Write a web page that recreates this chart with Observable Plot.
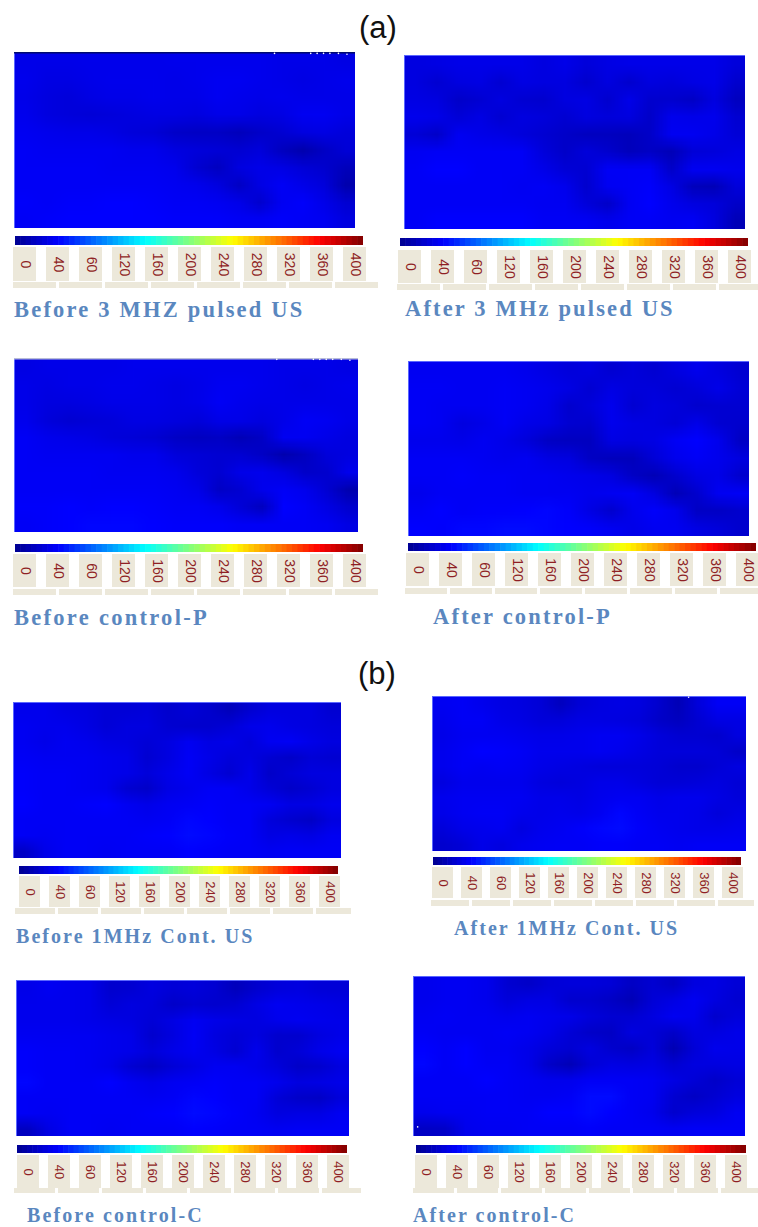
<!DOCTYPE html>
<html>
<head>
<meta charset="utf-8">
<script src="https://cdn.jsdelivr.net/npm/d3@7"></script>
<script src="https://cdn.jsdelivr.net/npm/@observablehq/plot@0.6"></script>
<style>
html,body{margin:0;padding:0;background:#fff;}
#page{position:relative;width:758px;height:1227px;overflow:hidden;}
#page>div{position:absolute;}
#page svg{display:block;overflow:hidden;background:transparent;max-width:none;}
.cap{font-family:"Liberation Serif",serif;font-weight:bold;color:#5a87bf;white-space:nowrap;line-height:1;}
.sec{font-family:"Liberation Sans",sans-serif;color:#111;font-size:31px;line-height:1;}
</style>
</head>
<body>
<div id="page"></div>
<script>
// ---- data ----
const tickLabels = ["0","40","60","120","160","200","240","280","320","360","400"];
const scaleValues = [0,50,150,250,350,400];
const scaleColors = ["#00008f","#0000ff","#00ffff","#ffff00","#ff0000","#800000"];
const gridCols = 16, gridRows = 10;

const beforePulsed = [
 40,40,40,41,41,41,41,42,42,42,42,42,40,40,40,38,
 42,38,38,40,42,42,42,40,42,44,44,42,40,38,40,42,
 40,36,34,38,40,40,42,40,40,44,42,40,42,40,40,40,
 42,36,34,32,34,36,38,38,36,40,40,36,38,44,44,40,
 44,42,40,40,38,34,32,26,24,24,20,26,30,36,38,34,
 46,44,44,44,44,42,42,36,34,32,30,34,22,14,24,32,
 46,46,46,46,44,44,44,42,30,22,36,40,38,32,28,20,
 46,46,46,46,46,46,46,44,42,36,24,38,46,40,34,14,
 48,46,48,48,50,50,48,46,46,44,40,28,44,48,40,30,
 46,48,50,50,50,50,50,48,48,48,46,46,48,46,44,36];
const afterPulsed = [
 36,38,40,40,40,40,36,40,34,38,40,40,40,40,40,34,
 36,30,36,38,30,38,36,36,28,36,28,36,34,38,40,28,
 38,36,26,30,36,30,28,36,38,28,40,28,28,24,36,22,
 42,40,32,38,30,36,34,30,36,34,36,26,42,40,42,30,
 32,26,44,40,38,34,30,26,22,22,20,26,44,44,40,32,
 44,46,46,46,46,46,34,26,34,28,20,24,18,32,34,38,
 46,50,50,46,46,46,40,32,30,46,46,46,26,44,44,42,
 46,46,46,46,46,44,46,42,28,44,46,48,38,20,18,34,
 46,46,46,46,46,46,44,44,34,26,44,50,42,36,34,26,
 46,50,50,50,50,50,46,46,46,42,46,46,44,46,36,18];
const beforeControlP = [
 38,40,40,40,40,42,42,42,42,42,42,42,40,40,40,38,
 40,38,40,40,42,42,40,38,40,44,44,42,40,38,40,42,
 40,36,36,38,40,40,40,38,40,46,42,40,40,40,40,40,
 42,34,30,32,34,38,38,36,34,40,40,36,40,46,44,40,
 46,42,40,38,34,32,30,24,22,24,18,24,44,44,40,36,
 46,44,44,44,44,42,42,34,32,30,30,24,14,22,34,36,
 46,46,46,46,44,44,44,42,34,30,40,42,36,26,28,42,
 46,46,46,46,46,46,46,44,40,24,30,42,46,42,30,14,
 48,48,50,48,50,50,48,46,46,42,32,22,50,46,38,28,
 46,48,50,52,52,52,50,48,48,48,46,46,46,46,44,38];
const afterControlP = [
 44,44,44,44,44,42,38,34,36,30,34,30,36,42,36,30,
 46,46,44,44,46,44,42,38,30,38,34,34,30,34,40,32,
 46,44,44,44,46,44,40,28,34,42,30,36,34,28,30,30,
 46,44,36,40,46,40,38,30,28,42,38,36,32,40,30,28,
 42,42,40,44,40,34,24,22,22,38,36,38,46,50,42,24,
 46,46,46,44,42,44,38,36,24,20,20,32,42,46,42,36,
 46,46,48,46,46,44,44,42,40,36,24,18,28,38,40,28,
 42,46,46,46,46,44,44,44,42,44,46,36,18,28,44,46,
 46,50,46,48,48,50,52,48,38,28,42,48,42,24,24,28,
 50,48,52,52,54,54,52,50,48,44,40,44,44,38,34,28];
const before1MHz = [
 42,42,38,36,32,32,34,28,32,28,20,30,36,36,36,30,
 44,42,42,38,32,36,36,30,28,28,32,40,42,38,36,34,
 44,40,44,42,38,36,32,36,44,38,40,34,44,46,40,36,
 46,44,44,44,42,40,30,36,46,40,34,36,30,26,32,30,
 48,46,46,44,42,40,34,40,46,38,30,40,26,32,36,36,
 48,46,46,44,42,30,26,38,42,46,46,40,32,26,30,36,
 50,46,46,48,50,44,40,44,46,48,46,46,44,38,38,42,
 46,46,46,46,46,46,44,46,52,50,46,46,34,28,24,36,
 46,44,46,46,46,46,48,50,54,52,48,46,38,40,38,44,
 24,40,46,46,44,46,46,46,50,48,46,46,44,46,46,46];
const after1MHz = [
 44,46,42,38,36,32,22,32,36,38,36,28,18,34,46,46,
 42,46,46,40,38,34,34,38,38,36,34,26,22,30,38,38,
 40,44,44,44,42,40,40,42,44,44,40,34,30,30,28,36,
 42,46,50,48,46,42,42,42,44,42,38,34,34,34,32,26,
 42,46,44,46,44,40,38,36,34,34,34,32,28,28,32,36,
 36,42,42,42,42,36,34,36,40,40,36,32,32,34,36,32,
 42,44,44,44,44,40,40,38,42,44,44,40,42,42,38,34,
 40,44,46,46,42,40,42,40,44,52,46,42,42,40,34,38,
 34,40,42,44,36,42,44,48,52,54,48,44,42,40,40,42,
 28,32,40,36,42,44,46,46,48,48,46,46,44,46,46,46];
const beforeControlC = [
 40,44,42,40,28,30,36,32,34,30,20,28,34,36,32,32,
 42,42,42,40,32,36,34,26,30,28,30,38,44,42,40,38,
 42,42,42,40,38,36,32,38,44,40,38,36,42,44,42,40,
 44,44,44,44,42,40,28,36,46,36,32,36,28,28,36,40,
 48,46,46,44,42,40,34,40,44,38,30,42,28,32,40,44,
 48,46,46,44,40,30,24,32,38,44,44,40,34,26,28,36,
 52,46,46,46,50,44,40,44,46,48,46,46,42,36,38,40,
 46,46,46,46,46,46,44,46,52,50,46,46,32,26,24,34,
 46,44,46,46,46,46,48,50,54,52,48,44,36,38,38,44,
 22,38,46,46,44,46,46,46,50,48,46,46,44,46,46,46];
const afterControlC = [
 42,44,44,42,30,26,32,34,34,32,24,30,24,36,38,32,
 42,44,44,42,34,38,38,28,28,24,18,32,38,44,36,30,
 44,46,44,44,42,44,42,40,34,30,30,36,44,42,28,34,
 46,44,44,44,46,44,40,32,26,24,36,32,26,36,36,40,
 50,46,50,44,44,40,34,30,36,28,24,34,16,32,42,40,
 52,46,50,46,46,40,26,18,32,38,36,38,30,36,36,38,
 46,46,46,50,46,44,42,42,46,46,46,44,38,32,26,32,
 46,46,46,46,46,44,44,46,54,54,46,44,30,24,30,36,
 42,44,44,46,46,46,50,50,54,50,46,42,28,34,36,44,
 24,26,42,44,44,46,46,46,48,46,46,46,44,46,46,46];

const captions = ["Before 3 MHZ pulsed US","After 3 MHz pulsed US","Before control-P","After control-P",
                  "Before 1MHz Cont. US","After 1MHz Cont. US","Before control-C","After control-C"];
const grids = [beforePulsed,afterPulsed,beforeControlP,afterControlP,before1MHz,after1MHz,beforeControlC,afterControlC];
// small white artefacts visible in the scans: grid column, grid row, per panel
const specksTopRight = [[12.2,0.05],[13.9,0.05],[14.2,0.05],[14.5,0.05],[14.8,0.05],[15.2,0.05],[15.6,0.1]];
const specks = [specksTopRight,[],specksTopRight,[],[],[[13.05,0.05]],[],[[0.2,9.4]]];
const topLines = ["#000a70",null,"#b8bcd8",null,null,null,null,null];

// ---- layout ----
const layout = [
 {heat:[14,52,341,176],bar:[15,236,348,9],chips:[13,247,354,34],strips:[13,282,365,6],cap:[14,299,22.5,2.2]},
 {heat:[404,55,341,174],bar:[400,238,348,8],chips:[397,250,355,33],strips:[397,284,361,6],cap:[405,298,22.5,2.15]},
 {heat:[14,358,344,174],bar:[15,544,348,8],chips:[13,554,354,33],strips:[13,589,365,6],cap:[14,607,22.5,2.28]},
 {heat:[408,361,341,175],bar:[408,543,348,8],chips:[405,553,356,33],strips:[405,588,353,6],cap:[433,606,22.5,2.2]},
 {heat:[13,702,328,156],bar:[19,866,319,8],chips:[17,876,326,31],strips:[15,908,336,6],cap:[16,926,20,2.05]},
 {heat:[432,696,314,155],bar:[433,857,308,8],chips:[430,867,314,31],strips:[431,900,323,6],cap:[454,918,20,2.05]},
 {heat:[16,980,333,156],bar:[17,1145,330,8],chips:[14,1155,339,33],strips:[14,1188,347,5],cap:[27,1205,20,2.1]},
 {heat:[413,976,332,160],bar:[416,1145,330,8],chips:[413,1155,337,33],strips:[413,1188,345,5],cap:[413,1205,20,2.07]}
];
const fillScale = {type:"linear",domain:scaleValues,range:scaleColors,interpolate:"rgb",clamp:true};
const page = document.getElementById("page");

function place(node,x,y){
  const d=document.createElement("div");
  d.style.left=x+"px";d.style.top=y+"px";
  d.appendChild(node);page.appendChild(d);
}
function sectionLabel(t,x,y){
  const s=document.createElement("div");s.className="sec";s.textContent=t;
  s.style.left=x+"px";s.style.top=y+"px";page.appendChild(s);
}
const noMargin={marginTop:0,marginRight:0,marginBottom:0,marginLeft:0};

layout.forEach((p,i)=>{
  const [hx,hy,hw,hh]=p.heat;
  const heatMarks=[
    Plot.raster(grids[i],{width:gridCols,height:gridRows,x1:0,x2:gridCols,y1:0,y2:gridRows}),
    Plot.frame({stroke:"#5a66ff",strokeWidth:1})
  ];
  if(topLines[i]) heatMarks.push(Plot.ruleY([0],{stroke:topLines[i],strokeWidth:2}));
  if(specks[i].length) heatMarks.push(Plot.dot(specks[i],{x:d=>d[0],y:d=>d[1],r:0.8,fill:"#ffffff"}));
  place(Plot.plot({...noMargin,width:hw,height:hh,
    x:{domain:[0,gridCols],axis:null},y:{domain:[0,gridRows],reverse:true,axis:null},
    color:fillScale,marks:heatMarks}),hx,hy);

  const [bx,by,bw,bh]=p.bar;
  const ramp=d3.range(0,400,6.25);
  place(Plot.plot({...noMargin,width:bw,height:bh,
    x:{domain:[0,400],axis:null},color:fillScale,
    marks:[Plot.rectY(ramp,{x1:d=>d,x2:d=>d+6.25,y1:0,y2:1,fill:d=>d+3.125,inset:-0.3})],
    y:{domain:[0,1],axis:null}}),bx,by);

  const [cx,cy,cw,ch]=p.chips;
  place(Plot.plot({...noMargin,width:cw,height:ch,
    x:{type:"band",domain:tickLabels,paddingInner:0.29,paddingOuter:0,axis:null},
    marks:[
      Plot.cell(tickLabels,{x:d=>d,fill:"#ece8da"}),
      Plot.text(tickLabels,{x:d=>d,frameAnchor:"middle",text:d=>d,rotate:90,fill:"#8f1f24",
        fontFamily:"Liberation Sans",fontSize:i<4?14:13})
    ]}),cx,cy);

  const [sx,sy,sw,sh]=p.strips;
  const stripStep=sw/7.72;
  place(Plot.plot({...noMargin,width:sw,height:sh,
    x:{type:"band",domain:d3.range(8),range:[0,stripStep*8],padding:0.07,align:0,axis:null},
    marks:[Plot.cell(d3.range(8),{x:d=>d,fill:"#ece8da"})]}),sx,sy);

  const [tx,ty,fs,ls]=p.cap;
  const c=document.createElement("div");c.className="cap";c.textContent=captions[i];
  c.style.left=tx+"px";c.style.top=ty+"px";c.style.fontSize=fs+"px";c.style.letterSpacing=ls+"px";
  page.appendChild(c);
});
sectionLabel("(a)",359,12);
sectionLabel("(b)",358,658);
</script>
</body>
</html>
